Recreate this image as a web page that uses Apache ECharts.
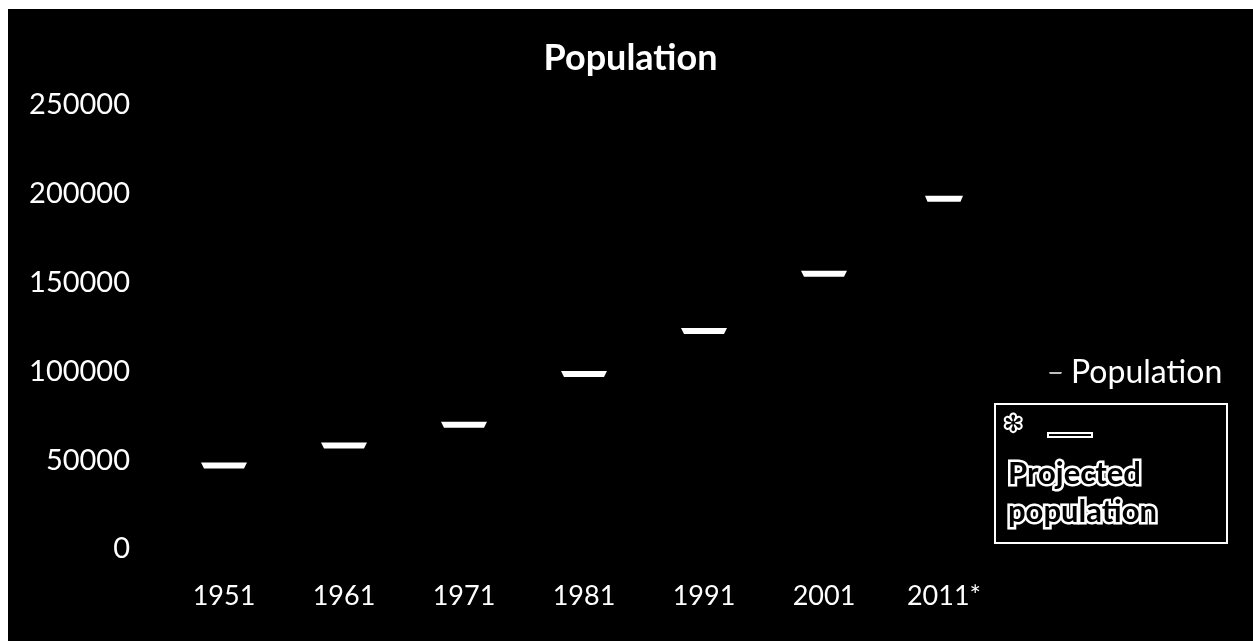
<!DOCTYPE html>
<html>
<head>
<meta charset="utf-8">
<style>
  html, body { margin: 0; padding: 0; background: #fff; }
  #chart { position: absolute; left: 8px; top: 9px; width: 1245px; height: 632px; background: #000; }
</style>
<script src="https://cdn.jsdelivr.net/npm/echarts@6/dist/echarts.min.js"></script>
</head>
<body>
<div id="chart"></div>
<script>
// 数据
var years = ["1951", "1961", "1971", "1981", "1991", "2001", "2011*"];
var population = [47000, 58300, 70000, 98500, 122700, 155000, null];
var projected = [null, null, null, null, null, null, 197200];
var yTicks = [0, 50000, 100000, 150000, 200000, 250000];

var FONT = "Lato";
var dash = "path://M0,0 L46,0 L43,5 L3,5 Z";

var myChart = echarts.init(document.getElementById("chart"));

var option = {
  backgroundColor: "#000",
  title: {
    text: "Population",
    left: "center",
    top: 26,
    textStyle: { color: "#fff", fontFamily: FONT, fontSize: 36, fontWeight: "bold" }
  },
  grid: { left: 156, right: 249, top: 96, bottom: 92 },
  legend: {
    data: ["Population"],
    left: 1036,
    top: 343,
    itemWidth: 13,
    itemHeight: 5,
    itemGap: 10,
    icon: dash,
    textStyle: { color: "#fff", fontFamily: FONT, fontSize: 32, padding: [0, 0, 0, 4] }
  },
  xAxis: {
    type: "category",
    data: years,
    axisLine: { show: false },
    axisTick: { show: false },
    axisLabel: { color: "#fff", fontFamily: FONT, fontSize: 27, margin: 34 }
  },
  yAxis: {
    type: "value",
    min: yTicks[0],
    max: yTicks[yTicks.length - 1],
    interval: 50000,
    axisLine: { show: false },
    axisTick: { show: false },
    splitLine: { show: false },
    axisLabel: {
      color: "#fff", fontFamily: FONT, fontSize: 29, margin: 34,
      formatter: function (v) { return String(v); }
    }
  },
  series: [
    {
      name: "Population",
      type: "line",
      data: population,
      lineStyle: { opacity: 0 },
      symbol: dash,
      symbolSize: [46, 6],
      itemStyle: { color: "#fff" }
    },
    {
      name: "Projected population",
      type: "line",
      data: projected,
      lineStyle: { opacity: 0 },
      symbol: dash,
      symbolSize: [38, 6],
      itemStyle: { color: "#fff" }
    }
  ],
  // 第二个图例框
  graphic: [
    {
      type: "rect",
      shape: { x: 987, y: 395, width: 232, height: 139 },
      style: { fill: "transparent", stroke: "#fff", lineWidth: 2 }
    },
    {
      type: "text",
      x: 996, y: 405,
      style: { text: "✻", fill: "#000", stroke: "#fff", lineWidth: 4, fontSize: 22, fontWeight: "bold", fontFamily: "DejaVu Sans" }
    },
    {
      type: "rect",
      shape: { x: 1040, y: 424, width: 44, height: 4 },
      style: { fill: "#000", stroke: "#fff", lineWidth: 2 }
    },
    {
      type: "text",
      x: 1000, y: 446,
      style: {
        text: "Projected\npopulation",
        fill: "#000",
        stroke: "#fff",
        lineWidth: 5,
        fontSize: 31,
        fontWeight: "bold",
        fontFamily: FONT,
        lineHeight: 38
      }
    }
  ]
};

myChart.setOption(option);
</script>
</body>
</html>
